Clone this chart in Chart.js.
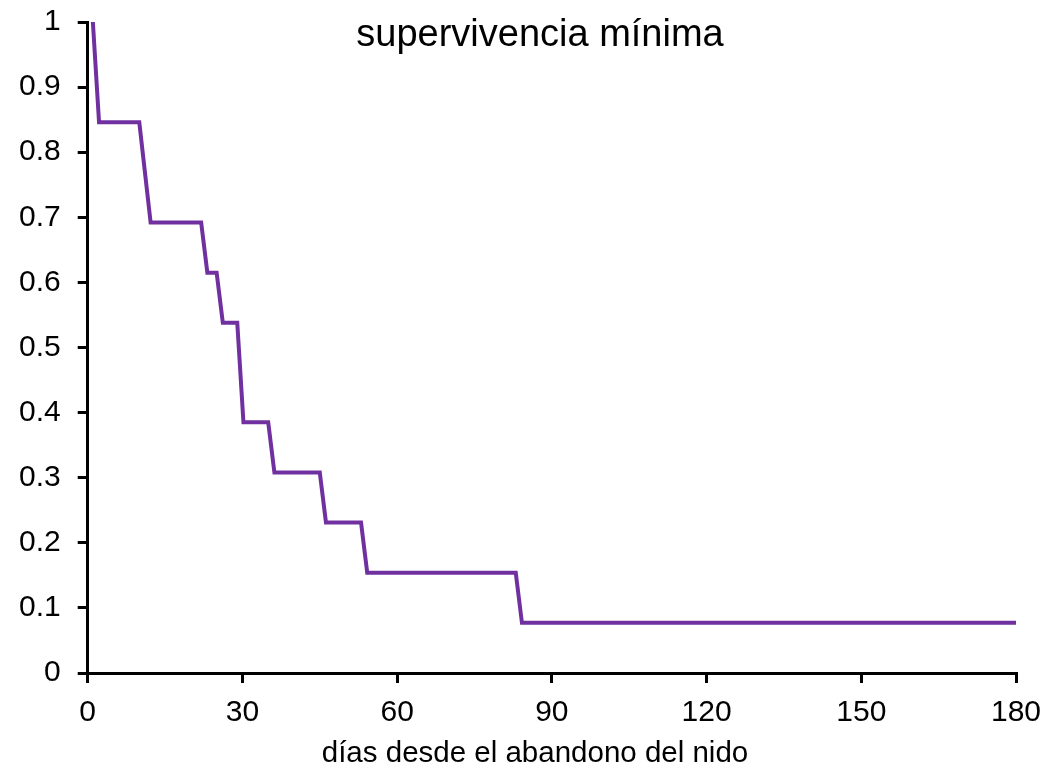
<!DOCTYPE html>
<html>
<head>
<meta charset="utf-8">
<script src="https://cdn.jsdelivr.net/npm/chart.js@4"></script>
<style>
  html, body { margin: 0; padding: 0; background: #fff; }
  #wrap { width: 1046px; height: 770px; }
</style>
</head>
<body>
<div id="wrap"><canvas id="grafico"></canvas></div>
<script>
// datos (vértices de la escalera)
const dias = [1, 2.2, 10, 12.2, 22, 23.2, 25, 26.2, 29, 30.2, 35, 36.2, 45, 46.2, 53, 54.2, 83, 84.2, 180];
const supervivencia = [1, 0.846, 0.846, 0.692, 0.692, 0.615, 0.615, 0.538, 0.538, 0.385, 0.385, 0.308, 0.308, 0.231, 0.231, 0.154, 0.154, 0.077, 0.077];
const ticksX = [0, 30, 60, 90, 120, 150, 180];
const ticksY = [0, 0.1, 0.2, 0.3, 0.4, 0.5, 0.6, 0.7, 0.8, 0.9, 1];
const titulo = 'supervivencia mínima';
const tituloEjeX = 'días desde el abandono del nido';

const fuente = 'Liberation Sans, Arial, sans-serif';

// textos dibujados a mano para controlar su posición
const textosPlugin = {
  id: 'textos',
  afterDraw(chart) {
    const ctx = chart.ctx;
    ctx.save();
    ctx.fillStyle = '#000';
    ctx.textAlign = 'center';
    ctx.textBaseline = 'alphabetic';
    ctx.font = '38px ' + fuente;
    ctx.fillText(titulo, 540, 46);
    ctx.font = '29.5px ' + fuente;
    ctx.fillText(tituloEjeX, 535, 762);
    ctx.restore();
  }
};

const puntos = dias.map((d, i) => ({ x: d, y: supervivencia[i] }));

new Chart(document.getElementById('grafico'), {
  type: 'scatter',
  data: {
    datasets: [{
      data: puntos,
      showLine: true,
      borderColor: '#7030A0',
      borderWidth: 4,
      pointRadius: 0,
      fill: false,
      tension: 0
    }]
  },
  options: {
    responsive: true,
    maintainAspectRatio: false,
    animation: false,
    layout: { padding: { left: 2, right: 30, top: 22, bottom: 27 } },
    plugins: {
      legend: { display: false },
      tooltip: { enabled: false }
    },
    scales: {
      x: {
        type: 'linear',
        min: 0,
        max: 180,
        afterBuildTicks: axis => { axis.ticks = ticksX.map(v => ({ value: v })); },
        afterFit: axis => { axis.paddingLeft = 0; axis.paddingRight = 0; },
        grid: { drawOnChartArea: false, color: '#000', lineWidth: 3, tickLength: 10 },
        border: { color: '#000', width: 3 },
        ticks: { color: '#000', font: { family: fuente, size: 30 }, padding: 12, maxRotation: 0 }
      },
      y: {
        min: 0,
        max: 1,
        afterBuildTicks: axis => { axis.ticks = ticksY.map(v => ({ value: v })); },
        afterFit: axis => { axis.paddingTop = 0; axis.paddingBottom = 0; },
        grid: { drawOnChartArea: false, color: '#000', lineWidth: 3, tickLength: 10 },
        border: { color: '#000', width: 3 },
        ticks: {
          color: '#000',
          font: { family: fuente, size: 30 },
          padding: 17,
          callback: v => String(Math.round(v * 10) / 10)
        }
      }
    }
  },
  plugins: [textosPlugin]
});
</script>
</body>
</html>
